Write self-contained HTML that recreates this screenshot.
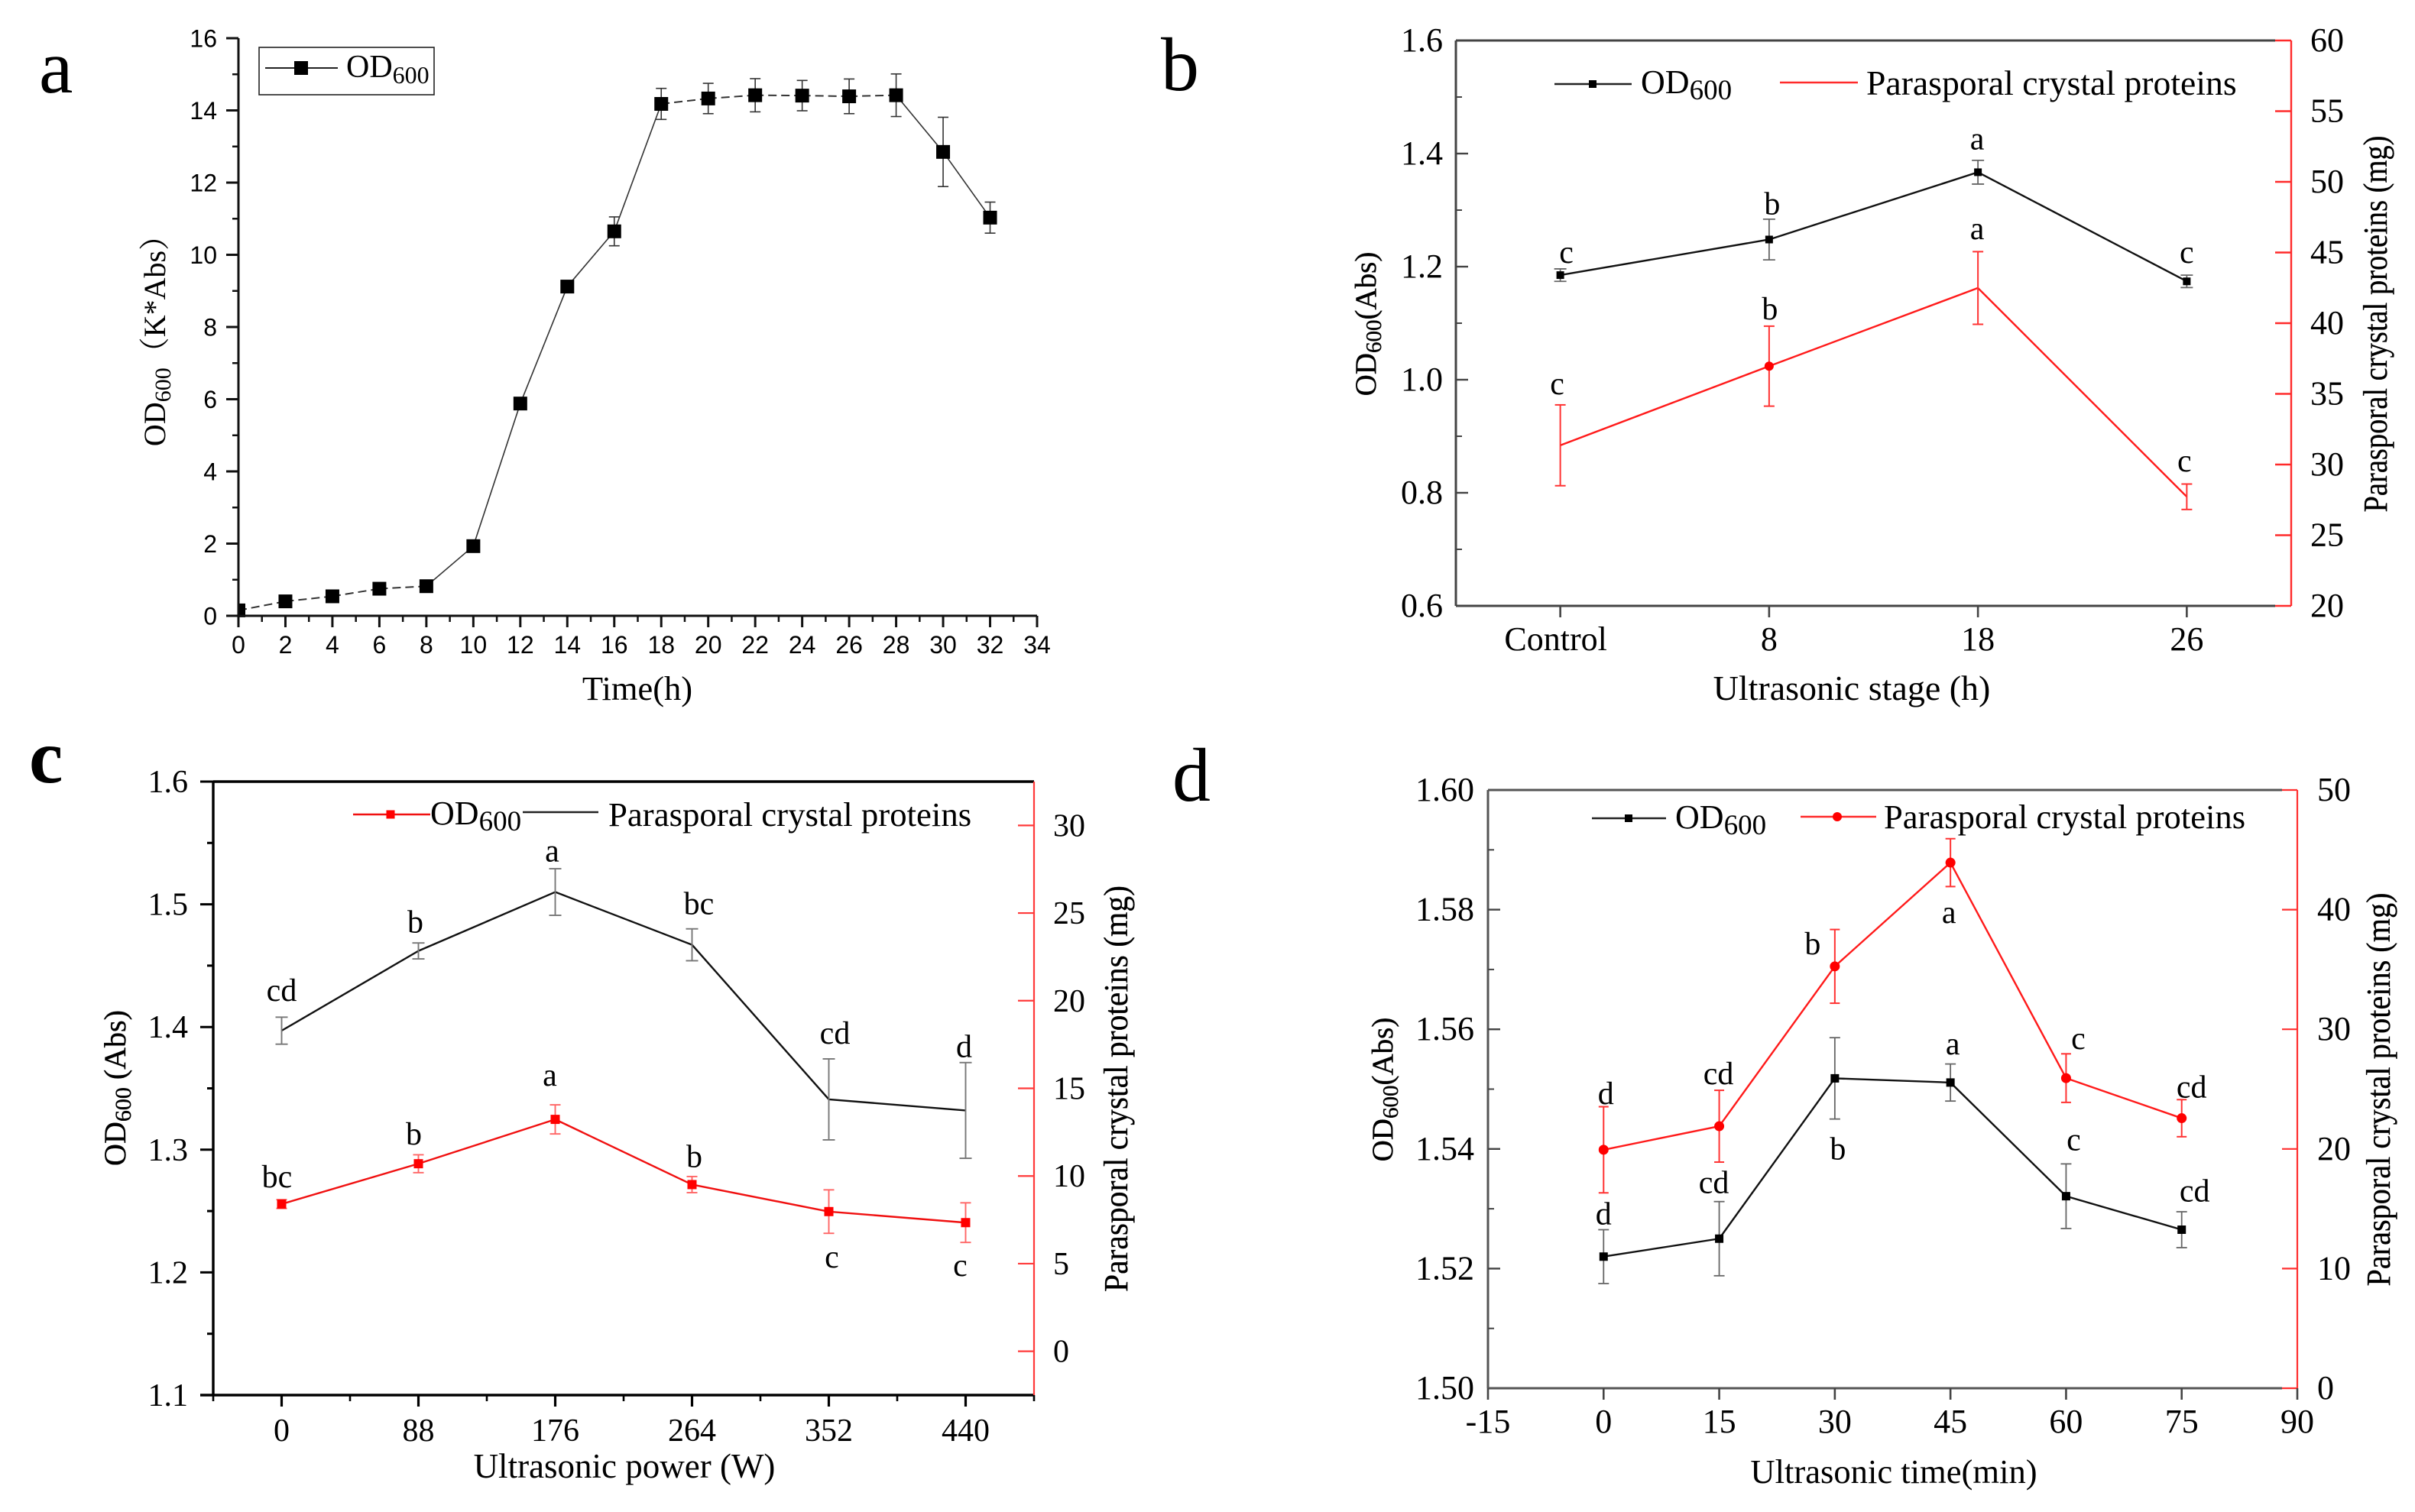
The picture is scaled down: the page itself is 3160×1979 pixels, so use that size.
<!DOCTYPE html>
<html lang="en">
<head>
<meta charset="utf-8">
<title>Growth and parasporal crystal protein charts</title>
<style>
html,body{margin:0;padding:0;background:#fff;}
svg{display:block;}
text{font-family:"Liberation Serif","Noto Serif CJK SC",serif;fill:#000;}
</style>
</head>
<body>
<svg id="figure" xmlns="http://www.w3.org/2000/svg" width="3160" height="1979" viewBox="0 0 3160 1979">
<rect x="0" y="0" width="3160" height="1979" fill="#fff"/>
</svg>
<script>
// ---------- Panel a data ----------
const aTimes=[0,2,4,6,8,10,12,14,16,18,20,22,24,26,28,30,32];
const aOd=[0.15,0.4,0.54,0.75,0.82,1.93,5.88,9.12,10.65,14.18,14.33,14.42,14.41,14.39,14.42,12.85,11.03];
const aOdErr=[0,0,0,0,0,0,0,0,0.4,0.43,0.42,0.46,0.42,0.48,0.59,0.96,0.43];
const aXTicks=[0,2,4,6,8,10,12,14,16,18,20,22,24,26,28,30,32,34];
const aXMinor=[1,3,5,7,9,11,13,15,17,19,21,23,25,27,29,31,33];
const aYTicks=[0,2,4,6,8,10,12,14,16];
const aYMinor=[1,3,5,7,9,11,13,15];
const aDashedSegments=[0,1,2,3,9,10,11,12,13];
// ---------- Panel b data ----------
const bCategories=['Control','8','18','26'];
const bOd=[1.185,1.248,1.367,1.174];
const bOdErr=[0.011,0.036,0.021,0.011];
const bProtein=[31.36,36.96,42.49,27.72];
const bProteinErr=[2.86,2.83,2.57,0.9];
const bOdLetters=['c','b','a','c'];
const bProteinLetters=['c','b','a','c'];
const bLeftTicks=['0.6','0.8','1.0','1.2','1.4','1.6'];
const bLeftMinor=[0.7,0.9,1.1,1.3,1.5];
const bRightTicks=[20,25,30,35,40,45,50,55,60];
// ---------- Panel c data ----------
const cCategories=['0','88','176','264','352','440'];
const cBlack=[1.397,1.462,1.51,1.467,1.341,1.332];
const cBlackErr=[0.011,0.0065,0.019,0.013,0.033,0.039];
const cRed=[8.4,10.7,13.23,9.51,7.97,7.34];
const cRedErr=[0.25,0.51,0.83,0.46,1.24,1.13];
const cBlackLetters=['cd','b','a','bc','cd','d'];
const cRedLetters=['bc','b','a','b','c','c'];
const cLeftTicks=['1.1','1.2','1.3','1.4','1.5','1.6'];
const cLeftMinor=[1.15,1.25,1.35,1.45,1.55];
const cRightTicks=[0,5,10,15,20,25,30];
// ---------- Panel d data ----------
const dTimes=[0,15,30,45,60,75];
const dOd=[1.522,1.525,1.5518,1.5511,1.5321,1.5265];
const dOdErr=[0.0045,0.0062,0.0068,0.0031,0.0054,0.003];
const dProtein=[19.93,21.9,35.26,43.93,25.92,22.57];
const dProteinErr=[3.6,3.0,3.08,2.0,2.03,1.55];
const dOdLetters=['d','cd','b','a','c','cd'];
const dProteinLetters=['d','cd','b','a','c','cd'];
const dXTicks=[-15,0,15,30,45,60,75,90];
const dLeftTicks=['1.50','1.52','1.54','1.56','1.58','1.60'];
const dLeftMinor=[1.51,1.53,1.55,1.57,1.59];
const dRightTicks=[0,10,20,30,40,50];

// ---------- Drawing helpers ----------
const SVGNS='http://www.w3.org/2000/svg';
const root=document.getElementById('figure');
function mk(parent,tag,attrs,name){
  const el=document.createElementNS(SVGNS,tag);
  for(const k in attrs){el.setAttribute(k,attrs[k]);}
  
  
  parent.appendChild(el);
  return el;
}
function line(p,x1,y1,x2,y2,stroke,w,name){
  return mk(p,'line',{x1,y1,x2,y2,stroke,'stroke-width':w},name);
}
function txt(p,x,y,s,size,name,extra){
  const el=mk(p,'text',Object.assign({x,y,'font-size':size},extra||{}),name);
  el.textContent=s;
  return el;
}
// Text of the form OD600 + tail, subscript kept as real text
function odText(p,x,y,size,subSize,subDrop,tail,name,extra){
  const el=mk(p,'text',Object.assign({x,y,'font-size':size},extra||{}),name);
  const a=document.createElementNS(SVGNS,'tspan');a.textContent='OD';el.appendChild(a);
  const b=document.createElementNS(SVGNS,'tspan');b.textContent='600';
  b.setAttribute('font-size',subSize);b.setAttribute('dy',subDrop);el.appendChild(b);
  if(tail){
    const c=document.createElementNS(SVGNS,'tspan');c.textContent=tail;
    c.setAttribute('dy',-subDrop);el.appendChild(c);
  }
  return el;
}
function marker(p,kind,cx,cy,size,fill,name,minX){
  if(kind==='circle'){
    return mk(p,'circle',{cx,cy,r:size/2,fill},name);
  }
  const left=minX===undefined?cx-size/2:Math.max(cx-size/2,minX);
  return mk(p,'rect',{x:left,y:cy-size/2,width:cx+size/2-left,height:size,fill},name);
}
function errorBars(p,xs,ys,errs,yAxis,color,capHalf,w,name){
  xs.forEach(function(x,i){
    if(!errs[i]){return;}
    const hi=yAxis(ys[i]+errs[i]), lo=yAxis(ys[i]-errs[i]);
    const g=mk(p,'g',{},name+'-'+i);
    line(g,x,hi,x,lo,color,w,'error-stem');
    line(g,x-capHalf,hi,x+capHalf,hi,color,w,'error-cap-top');
    line(g,x-capHalf,lo,x+capHalf,lo,color,w,'error-cap-bottom');
  });
}
function polyline(p,xs,ys,yAxis,color,w,name){
  const pts=xs.map(function(x,i){return x+','+yAxis(ys[i]);}).join(' ');
  return mk(p,'polyline',{points:pts,fill:'none',stroke:color,'stroke-width':w,'stroke-linejoin':'round'},name);
}
function letters(p,xs,ys,yAxis,labels,dx,dy,size,name){
  labels.forEach(function(s,i){
    txt(p,xs[i]+dx[i],yAxis(ys[i])+dy[i],s,size,name+'-'+i,{'text-anchor':'middle'});
  });
}

// ---------- Panel a ----------
(function(){
  const g=mk(root,'g',{},'panel-a');
  const L=312,R=1357,T=50,B=806;
  const X=function(v){return L+(v-0)/34*(R-L);};
  const Y=function(v){return B-(v-0)/16*(B-T);};
  const sans={'style':'font-family:"Liberation Sans",sans-serif'};
  txt(g,51,121,'a',100,'panel-letter-a');
  const xs=aTimes.map(X);
  aOd.slice(0,-1).forEach(function(v,i){
    const dashed=aDashedSegments.indexOf(i)>=0;
    const attrs={x1:xs[i],y1:Y(v),x2:xs[i+1],y2:Y(aOd[i+1]),stroke:'#333','stroke-width':dashed?2:1.6};
    if(dashed){attrs['stroke-dasharray']='11 6';}
    mk(g,'line',attrs,'od-line-segment');
  });
  errorBars(g,xs,aOd,aOdErr,Y,'#333',7,1.6,'od-error-bar');
  xs.forEach(function(x,i){marker(g,'rect',x,Y(aOd[i]),18,'#000','od-point-'+aTimes[i],L);});
  line(g,L,T,L,B+15,'#111',3,'y-axis');
  line(g,L-16,B,R,B,'#111',3,'x-axis');
  aYTicks.forEach(function(v){
    line(g,L-16,Y(v),L,Y(v),'#111',3,'y-tick');
    txt(g,284,Y(v)+11.5,String(v),32,'y-tick-label',Object.assign({'text-anchor':'end'},sans));
  });
  aYMinor.forEach(function(v){line(g,L-8,Y(v),L,Y(v),'#111',2.5,'y-minor-tick');});
  aXTicks.forEach(function(v){
    line(g,X(v),B,X(v),B+15,'#111',3,'x-tick');
    txt(g,X(v),855,String(v),32,'x-tick-label',Object.assign({'text-anchor':'middle'},sans));
  });
  aXMinor.forEach(function(v){line(g,X(v),B,X(v),B+8,'#111',2.5,'x-minor-tick');});
  txt(g,834,916,'Time(h)',44.5,'x-axis-title',{'text-anchor':'middle'});
  odText(g,216,436,40,30,7,'（K*Abs）','y-axis-title',{'text-anchor':'middle',transform:'rotate(-90 216 436)'});
  const lg=mk(g,'g',{},'legend');
  mk(lg,'rect',{x:339,y:62,width:229,height:62,fill:'none',stroke:'#222','stroke-width':1.6},'legend-box');
  line(lg,347,89,442,89,'#222',2,'legend-line');
  marker(lg,'rect',394,89,18,'#000','legend-marker');
  odText(lg,453,101,42,32,8,null,'legend-label');
})();

// ---------- Panel b ----------
(function(){
  const g=mk(root,'g',{},'panel-b');
  const L=1905,R=2998,T=53,B=793,F=44;
  const X=function(i){return L+(i+0.5)/4*(R-L);};
  const Y=function(v){return B-(v-0.6)/1.0*(B-T);};
  const Y2=function(v){return B-(v-20)/40*(B-T);};
  const xs=bCategories.map(function(c,i){return X(i);});
  txt(g,1519,118,'b',100,'panel-letter-b');
  polyline(g,xs,bOd,Y,'#111',2.4,'od-line');
  errorBars(g,xs,bOd,bOdErr,Y,'#666',8,1.8,'od-error-bar');
  xs.forEach(function(x,i){marker(g,'rect',x,Y(bOd[i]),10,'#000','od-point-'+bCategories[i]);});
  polyline(g,xs,bProtein,Y2,'#ff1a1a',2.4,'protein-line');
  errorBars(g,xs,bProtein,bProteinErr,Y2,'#f33',7,2,'protein-error-bar');
  marker(g,'circle',xs[1],Y2(bProtein[1]),12,'#f00','protein-point-8');
  letters(g,xs,bOd,Y,bOdLetters,[8,4,-1,0],[-16,-33,-30,-24],42,'od-letter');
  letters(g,xs,bProtein,Y2,bProteinLetters,[-4,1,-1,-3],[-67,-61,-64,-33],42,'protein-letter');
  line(g,L,T,L,B,'#444',3,'left-axis');
  line(g,L,T,R-21,T,'#444',3,'top-axis');
  line(g,L,B,R-21,B,'#444',3,'bottom-axis');
  line(g,R,T,R,B,'#ff2a2a',2.4,'right-axis');
  bLeftTicks.forEach(function(s){
    const y=Y(parseFloat(s));
    if(y>T&&y<B){line(g,L,y,L+16,y,'#444',2.4,'left-tick');}
    txt(g,1888,y+14,s,F,'left-tick-label',{'text-anchor':'end'});
  });
  bLeftMinor.forEach(function(v){line(g,L,Y(v),L+8,Y(v),'#444',2,'left-minor-tick');});
  bRightTicks.forEach(function(v){
    line(g,R-21,Y2(v),R,Y2(v),'#ff2a2a',2.4,'right-tick');
    txt(g,3023,Y2(v)+14,String(v),F,'right-tick-label');
  });
  bCategories.forEach(function(c,i){
    line(g,xs[i],B,xs[i],B+15,'#444',2.6,'x-tick');
    txt(g,xs[i]+(i===0?-6:0),851,c,F,'x-tick-label',{'text-anchor':'middle'});
  });
  txt(g,2423,916,'Ultrasonic stage (h)',46,'x-axis-title',{'text-anchor':'middle'});
  odText(g,1800,424,39,29,7,'(Abs)','left-axis-title',{'text-anchor':'middle',transform:'rotate(-90 1800 424)','stroke':'#000','stroke-width':0.4});
  txt(g,3123,424,'Parasporal crystal proteins (mg)',44,'right-axis-title',{'text-anchor':'middle',textLength:493,lengthAdjust:'spacingAndGlyphs',transform:'rotate(-90 3123 424)','stroke':'#000','stroke-width':0.3});
  const lg=mk(g,'g',{},'legend');
  line(lg,2034,110,2135,110,'#222',2.4,'legend-od-line');
  marker(lg,'rect',2084,110,10,'#000','legend-od-marker');
  odText(lg,2147,122,44,37,8,null,'legend-od-label');
  line(lg,2329,108,2431,108,'#ff2a2a',2.4,'legend-protein-line');
  txt(lg,2442,124,'Parasporal crystal proteins',45.7,'legend-protein-label');
})();

// ---------- Panel c ----------
(function(){
  const g=mk(root,'g',{},'panel-c');
  const L=279,R=1353,T=1023,B=1826,F=42;
  const X=function(i){return L+(i+0.5)/6*(R-L);};
  const Y=function(v){return B-(v-1.1)/0.5*(B-T);};
  const Y2=function(v){return B-(v+2.5)/35*(B-T);};
  const xs=cCategories.map(function(c,i){return X(i);});
  txt(g,38,1024,'c',100,'panel-letter-c',{'font-weight':'bold'});
  polyline(g,xs,cBlack,Y,'#111',2.4,'black-line');
  errorBars(g,xs,cBlack,cBlackErr,Y,'#777',8,1.9,'black-error-bar');
  polyline(g,xs,cRed,Y2,'#f01010',2.4,'red-line');
  errorBars(g,xs,cRed,cRedErr,Y2,'#f66',7,1.9,'red-error-bar');
  xs.forEach(function(x,i){marker(g,'rect',x,Y2(cRed[i]),12,'#f00','red-point-'+cCategories[i]);});
  letters(g,xs,cBlack,Y,cBlackLetters,[0,-4,-4,9,8,-2],[-39,-24,-40,-40,-73,-70],42,'black-letter');
  letters(g,xs,cRed,Y2,cRedLetters,[-6,-6,-7,3,4,-7],[-22,-25,-44,-23,73,70],42,'red-letter');
  line(g,L,T,L,B,'#000',3.4,'left-axis');
  line(g,L,T,R,T,'#000',3.4,'top-axis');
  line(g,L-17,B,R,B,'#000',3.4,'bottom-axis');
  line(g,R,T,R,B,'#ff3a3a',2.2,'right-axis');
  cLeftTicks.forEach(function(s){
    const y=Y(parseFloat(s));
    line(g,L-17,y,L,y,'#000',3,'left-tick');
    txt(g,246,y+14,s,F,'left-tick-label',{'text-anchor':'end'});
  });
  cLeftMinor.forEach(function(v){line(g,L-8,Y(v),L,Y(v),'#000',3,'left-minor-tick');});
  cRightTicks.forEach(function(v){
    line(g,R-21,Y2(v),R,Y2(v),'#ff3a3a',2.2,'right-tick');
    txt(g,1378,Y2(v)+14,String(v),F,'right-tick-label');
  });
  cCategories.forEach(function(c,i){
    line(g,xs[i],B,xs[i],B+15,'#000',3.2,'x-tick');
    txt(g,xs[i],1886,c,F,'x-tick-label',{'text-anchor':'middle'});
  });
  for(let i=0;i<=6;i++){line(g,L+i/6*(R-L),B,L+i/6*(R-L),B+8,'#000',2.6,'x-minor-tick');}
  txt(g,817,1934,'Ultrasonic power (W)',45,'x-axis-title',{'text-anchor':'middle'});
  odText(g,164,1424,40,30,7,' (Abs)','left-axis-title',{'text-anchor':'middle',transform:'rotate(-90 164 1424)','stroke':'#000','stroke-width':0.4});
  txt(g,1475,1425,'Parasporal crystal proteins (mg)',44,'right-axis-title',{'text-anchor':'middle',textLength:532,lengthAdjust:'spacingAndGlyphs',transform:'rotate(-90 1475 1425)','stroke':'#000','stroke-width':0.3});
  const lg=mk(g,'g',{},'legend');
  line(lg,462,1066,563,1066,'#f01010',2.4,'legend-red-line');
  marker(lg,'rect',511,1066,11,'#f00','legend-red-marker');
  odText(lg,563,1079,44,37,8,null,'legend-red-label');
  line(lg,684,1063,783,1063,'#222',2.4,'legend-black-line');
  txt(lg,796,1081,'Parasporal crystal proteins',44.8,'legend-black-label');
})();

// ---------- Panel d ----------
(function(){
  const g=mk(root,'g',{},'panel-d');
  const L=1947,R=3006,T=1034,B=1817,F=44;
  const X=function(v){return L+(v+15)/105*(R-L);};
  const Y=function(v){return B-(v-1.5)/0.1*(B-T);};
  const Y2=function(v){return B-v/50*(B-T);};
  const xs=dTimes.map(X);
  txt(g,1534,1048,'d',100,'panel-letter-d');
  polyline(g,xs,dOd,Y,'#111',2.4,'od-line');
  errorBars(g,xs,dOd,dOdErr,Y,'#666',7,1.8,'od-error-bar');
  xs.forEach(function(x,i){marker(g,'rect',x,Y(dOd[i]),11,'#000','od-point-'+dTimes[i]);});
  polyline(g,xs,dProtein,Y2,'#ff1a1a',2.4,'protein-line');
  errorBars(g,xs,dProtein,dProteinErr,Y2,'#f33',6.5,2,'protein-error-bar');
  xs.forEach(function(x,i){marker(g,'circle',x,Y2(dProtein[i]),13,'#f00','protein-point-'+dTimes[i]);});
  letters(g,xs,dOd,Y,dOdLetters,[0,-7,4,3,10,17],[-42,-60,106,-37,-60,-37],42,'od-letter');
  letters(g,xs,dProtein,Y2,dProteinLetters,[3,-1,-29,-2,16,13],[-60,-55,-16,79,-38,-27],42,'protein-letter');
  line(g,L,T,L,B,'#555',3,'left-axis');
  line(g,L,T,R-20,T,'#555',3,'top-axis');
  line(g,L,B,R-20,B,'#555',3,'bottom-axis');
  line(g,R,T,R,B,'#ff3030',2.2,'right-axis');
  dLeftTicks.forEach(function(s){
    const y=Y(parseFloat(s));
    if(y>T&&y<B){line(g,L,y,L+16,y,'#444',2.4,'left-tick');}
    txt(g,1929,y+14,s,F,'left-tick-label',{'text-anchor':'end'});
  });
  dLeftMinor.forEach(function(v){line(g,L,Y(v),L+8,Y(v),'#444',2,'left-minor-tick');});
  dRightTicks.forEach(function(v){
    line(g,R-20,Y2(v),R,Y2(v),'#ff3030',2.2,'right-tick');
    txt(g,3032,Y2(v)+14,String(v),F,'right-tick-label');
  });
  dXTicks.forEach(function(v){
    line(g,X(v),B,X(v),B+15,'#444',2.6,'x-tick');
    txt(g,X(v),1875,String(v),F,'x-tick-label',{'text-anchor':'middle'});
  });
  txt(g,2478,1941,'Ultrasonic time(min)',44.6,'x-axis-title',{'text-anchor':'middle'});
  odText(g,1822,1426,39,29,7,'(Abs)','left-axis-title',{'text-anchor':'middle',transform:'rotate(-90 1822 1426)','stroke':'#000','stroke-width':0.4});
  txt(g,3127,1426,'Parasporal crystal proteins (mg)',44,'right-axis-title',{'text-anchor':'middle',textLength:515,lengthAdjust:'spacingAndGlyphs',transform:'rotate(-90 3127 1426)','stroke':'#000','stroke-width':0.3});
  const lg=mk(g,'g',{},'legend');
  line(lg,2083,1071,2180,1071,'#222',2.4,'legend-od-line');
  marker(lg,'rect',2131,1071,10,'#000','legend-od-marker');
  odText(lg,2192,1084,44,37,8,null,'legend-od-label');
  line(lg,2356,1069,2455,1069,'#ff2a2a',2.4,'legend-protein-line');
  marker(lg,'circle',2404,1069,12,'#f00','legend-protein-marker');
  txt(lg,2465,1084,'Parasporal crystal proteins',44.6,'legend-protein-label');
})();
</script>
</body>
</html>
